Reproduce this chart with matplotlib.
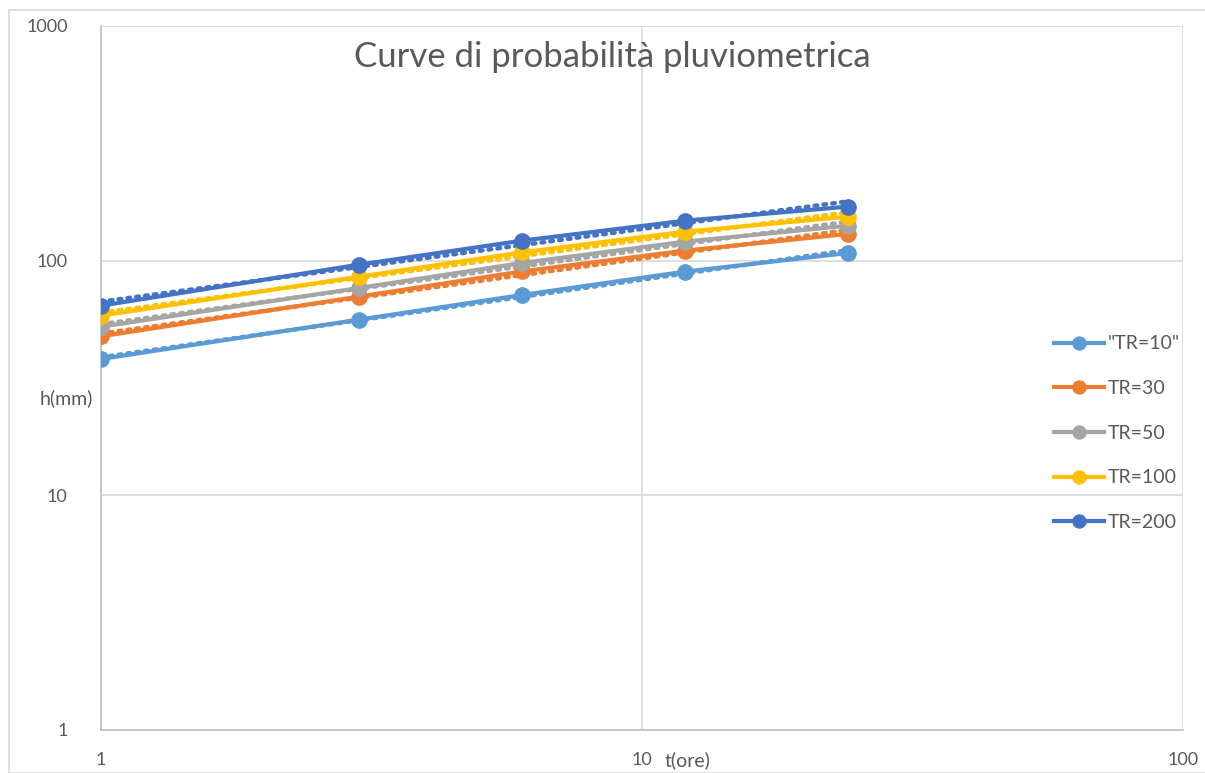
import numpy as np
import matplotlib
matplotlib.use('Agg')
import matplotlib.pyplot as plt
from matplotlib.patches import Rectangle

plt.rcParams['font.family'] = ['Lato', 'DejaVu Sans']

# durate (ore) e altezze di pioggia (mm)
t_ore = [1, 3, 6, 12, 24]
h_tr10 = [38.1, 56.1, 71.4, 89.8, 107.8]
h_tr30 = [47.6, 70.3, 90.0, 110.3, 130.0]
h_tr50 = [52.3, 76.5, 97.8, 120.5, 141.0]
h_tr100 = [58.3, 85.5, 108.5, 132.9, 154.0]
h_tr200 = [64.3, 96.2, 121.7, 148.0, 169.9]

series = [('"TR=10"', h_tr10, '#5B9BD5'),
          ('TR=30', h_tr30, '#ED7D31'),
          ('TR=50', h_tr50, '#A5A5A5'),
          ('TR=100', h_tr100, '#FFC000'),
          ('TR=200', h_tr200, '#4472C4')]

GRAY = '#595959'
fig = plt.figure(figsize=(12.05, 7.73), dpi=100)
ax = fig.add_axes([101/1205, 1-730/773, (1183-101)/1205, (730-26)/773])

t = np.array(t_ore, float)
tt = np.linspace(t.min(), t.max(), 100)
for nm, h, col in series:
    # linea di tendenza di potenza (come Excel)
    b, a = np.polyfit(np.log(t), np.log(h), 1)
    ax.plot(tt, np.exp(a)*tt**b, color=col, ls=(0, (0.6, 1.4)), lw=3.2,
            dash_capstyle='round', zorder=2)
    ax.plot(t, h, color=col, lw=3, marker='o', ms=11, label=nm, zorder=3)

ax.set_xscale('log'); ax.set_yscale('log')
ax.set_xlim(1, 100); ax.set_ylim(1, 1000)
ax.grid(True, which='major', color='#d9d9d9', lw=1.2)
ax.minorticks_off()
ax.tick_params(length=0, labelsize=13, colors=GRAY, pad=16)
ax.tick_params(axis='y', pad=24)
ax.set_xticks([1, 10, 100]); ax.set_xticklabels(['1', '10', '100'])
ax.set_yticks([1, 10, 100, 1000]); ax.set_yticklabels(['1', '10', '100', '1000'])
for s in ['top', 'right']:
    ax.spines[s].set_visible(False)
for s in ['left', 'bottom']:
    ax.spines[s].set_color('#bfbfbf'); ax.spines[s].set_linewidth(1.2)

ax.set_title('Curve di probabilità pluviometrica', fontsize=25, color=GRAY, x=0.473, y=0.93)
fig.text(40/1205, 1-398/773, 'h(mm)', fontsize=14, color=GRAY, va='center', ha='left')
fig.text(665/1205, 1-760/773, 't(ore)', fontsize=14, color=GRAY, va='center', ha='left')

ax.legend(loc='upper left', bbox_to_anchor=(1036/1205, 1-318/773), bbox_transform=fig.transFigure,
          frameon=False, fontsize=14, labelcolor=GRAY, handlelength=2.6,
          labelspacing=1.42, handletextpad=0.2, markerscale=0.85)

fig.patches.append(Rectangle((9/1205, 0), 1.0, 1-10/773, transform=fig.transFigure,
                             fill=False, ec='#d9d9d9', lw=1.2))
fig.savefig('out.png', dpi=100)
